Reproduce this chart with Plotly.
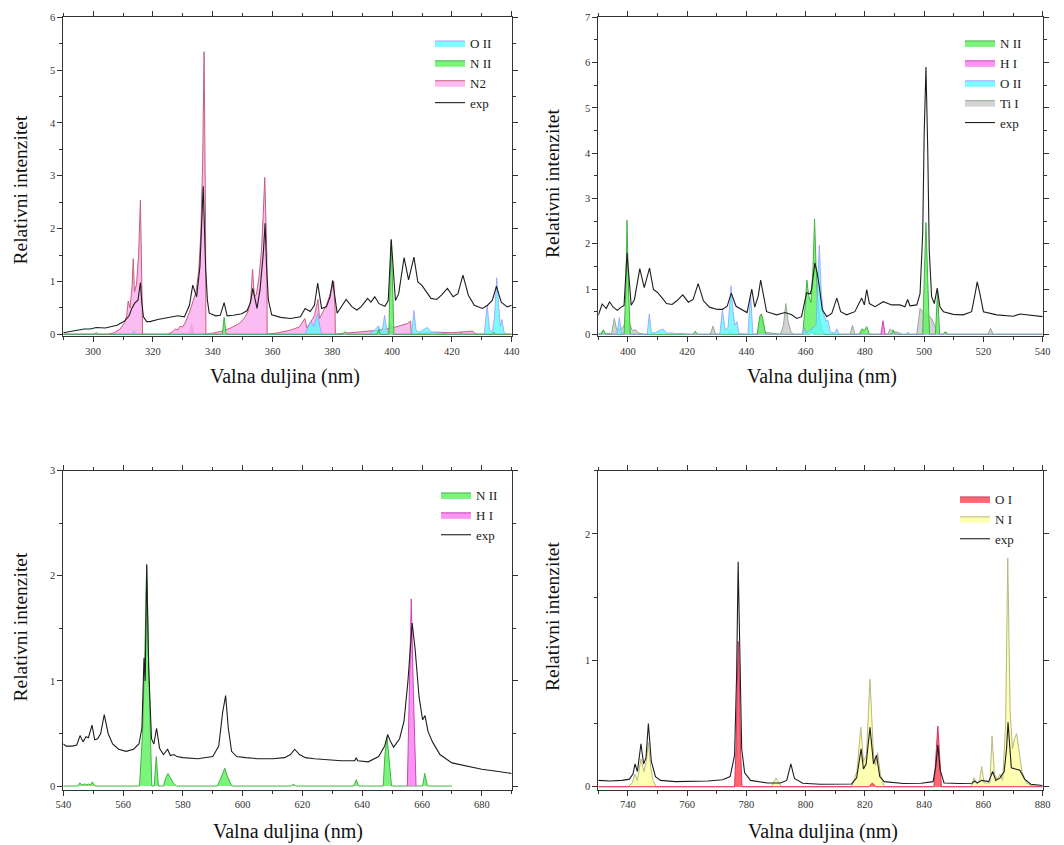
import plotly.graph_objects as go

# ---------------- Panel 1 (290-440 nm) ----------------
p1_exp_x = [290, 293, 297, 299, 301, 304, 308, 310.5, 312, 313, 313.9, 315, 315.8, 316.2, 316.8, 317.9, 319, 321.6, 324.4, 328.3, 330.5, 332.2, 333.3, 334.6, 335.7, 336.5, 336.8, 337.6, 338.2, 338.8, 341, 342.5, 343.8, 344.8, 346.9, 349.7, 351.5, 352.6, 353.4, 354.8, 355.8, 356.9, 357.5, 358.0, 358.6, 359.7, 362.7, 366, 369.3, 370.9, 372.6, 374, 375.1, 376.4, 378, 379.2, 380.1, 381.6, 384.6, 386.6, 388.2, 389.6, 391.8, 392.9, 394.2, 395.6, 397.6, 398.7, 399.7, 401.1, 402.2, 404, 405.5, 407.3, 408.6, 409.9, 411.6, 413, 414.9, 416.5, 418.5, 420.4, 422, 423.7, 425.5, 427.5, 430.2, 431.9, 433.5, 434.9, 436.5, 438.5, 440]
p1_exp_y = [0.03, 0.06, 0.1, 0.1, 0.13, 0.12, 0.17, 0.25, 0.35, 0.5, 0.59, 0.65, 0.98, 0.65, 0.33, 0.24, 0.24, 0.28, 0.31, 0.35, 0.33, 0.55, 0.93, 0.71, 1.28, 2.23, 2.8, 1.28, 0.65, 0.4, 0.35, 0.36, 0.6, 0.35, 0.36, 0.39, 0.45, 0.6, 0.87, 0.49, 0.84, 1.53, 2.1, 1.28, 0.65, 0.37, 0.32, 0.3, 0.33, 0.49, 0.43, 0.55, 0.97, 0.49, 0.52, 0.7, 1.02, 0.4, 0.66, 0.52, 0.46, 0.52, 0.68, 0.61, 0.71, 0.58, 0.53, 0.64, 1.8, 0.64, 0.77, 1.45, 1.03, 1.46, 0.99, 0.93, 0.8, 0.68, 0.66, 0.74, 0.87, 0.71, 0.77, 1.12, 0.74, 0.55, 0.49, 0.55, 0.64, 0.91, 0.61, 0.52, 0.55]

p1_n2_x = [290, 305, 307, 309, 310.5, 311.2, 311.7, 312.3, 313, 313.4, 313.8, 314.5, 315.2, 315.8, 316.4, 316.5, 320, 325, 326.5, 327.5, 328.3, 329, 330, 331, 332.2, 333.2, 334.4, 335.3, 336, 336.6, 337.1, 337.6, 337.7, 340, 343, 346, 348.7, 350.5, 351.7, 352.7, 353.3, 353.9, 354.6, 355.5, 356.3, 356.9, 357.4, 358.1, 358.2, 362, 366, 369, 370.8, 371.5, 372.5, 374, 375.2, 375.7, 376.8, 378, 379.2, 380.1, 380.5, 380.9, 381, 384, 388, 392, 396, 400, 403, 405, 406.2, 406.4, 410, 415, 420, 425, 427, 428, 440]
p1_n2_y = [0, 0, 0.03, 0.1, 0.22, 0.35, 0.63, 0.5, 0.9, 1.43, 0.8, 0.95, 1.5, 2.54, 0.5, 0, 0, 0, 0.05, 0.1, 0.08, 0.15, 0.14, 0.25, 0.42, 0.6, 0.8, 1.2, 1.9, 3.2, 5.35, 2.0, 0, 0.02, 0.06, 0.12, 0.2, 0.3, 0.42, 0.65, 1.23, 0.72, 0.75, 1.1, 1.6, 2.3, 2.97, 1.5, 0, 0.03, 0.08, 0.14, 0.3, 0.12, 0.22, 0.35, 0.66, 0.3, 0.42, 0.55, 0.75, 0.9, 1.0, 0.5, 0, 0.02, 0.04, 0.06, 0.08, 0.12, 0.16, 0.2, 0.25, 0, 0.02, 0.04, 0.03, 0.05, 0.06, 0, 0]

p1_o2_x = [290, 300.5, 301.2, 302, 312.8, 313.6, 314.4, 338.5, 339.3, 340, 370.8, 371.8, 372.8, 373.8, 374.5, 375.1, 375.8, 376.5, 392, 393.5, 394.5, 395.4, 396.2, 396.8, 397.5, 398.2, 399, 406.5, 407.3, 408, 409, 410.5, 411.8, 413, 415, 417, 419, 430.8, 431.8, 432.6, 433.5, 434.2, 435, 435.7, 436.2, 436.7, 437.4, 438, 440]
p1_o2_y = [0, 0, 0.02, 0, 0, 0.06, 0, 0, 0.03, 0, 0, 0.12, 0.25, 0.15, 0.3, 0.4, 0.15, 0, 0, 0.05, 0.1, 0.16, 0.06, 0.1, 0.36, 0.08, 0, 0, 0.45, 0.08, 0.04, 0.08, 0.13, 0.05, 0.03, 0.02, 0, 0, 0.55, 0.08, 0.05, 0.3, 1.07, 0.5, 0.15, 0.28, 0.05, 0, 0]

p1_n2ion_x = [290, 300.3, 301, 301.7, 343.2, 343.8, 344.5, 383.5, 384.2, 385, 395, 395.5, 396, 398.9, 399.3, 399.7, 400.1, 400.6, 422.5, 423, 423.5, 433.5, 434, 434.5, 440]
p1_n2ion_y = [0, 0, 0.03, 0, 0, 0.32, 0, 0, 0.05, 0, 0, 0.1, 0, 0, 1.0, 1.78, 1.0, 0, 0, 0.04, 0, 0, 0.04, 0, 0]

p1_grey_x = [290, 332.2, 332.9, 333.6, 398.5, 399.5, 400.3, 440]
p1_grey_y = [0, 0, 0.19, 0, 0, 0.2, 0, 0]

# ---------------- Panel 2 (390-540 nm) ----------------
p2_exp_x = [390, 391.3, 392.7, 393.8, 394.9, 396.4, 397.5, 398.7, 399.7, 401.1, 402.2, 404, 405.5, 407.3, 408.6, 409.9, 411.6, 413, 414.9, 416.5, 418.5, 420.4, 422, 423.7, 425.5, 427.5, 430.2, 431.9, 433.5, 434.9, 436.5, 438.5, 440.2, 441.8, 442.8, 444, 444.8, 446.8, 450.2, 453, 455.3, 457, 458.6, 459.8, 460.3, 461.5, 462, 463.1, 463.9, 464.6, 465.6, 467.1, 468.8, 470.5, 471.8, 473.8, 476.6, 478.9, 479.8, 480.6, 481.5, 483.4, 486.2, 489, 491.8, 493.5, 494.4, 495.2, 497.5, 498.6, 499.5, 500, 500.6, 501.2, 501.7, 502.5, 503.4, 504.4, 505.3, 506.5, 509.8, 513.2, 516, 517.2, 517.9, 518.8, 520, 524.5, 530.1, 532.3, 534.6, 540]
p2_exp_y = [0.42, 0.67, 0.57, 0.72, 0.61, 0.53, 0.59, 0.64, 1.8, 0.64, 0.77, 1.45, 1.03, 1.46, 0.99, 0.93, 0.8, 0.68, 0.66, 0.74, 0.87, 0.71, 0.77, 1.12, 0.74, 0.6, 0.55, 0.55, 0.62, 0.91, 0.62, 0.55, 0.48, 1.0, 0.6, 0.85, 1.2, 0.5, 0.43, 0.48, 0.43, 0.35, 0.39, 0.76, 0.92, 0.89, 1.0, 1.58, 1.35, 1.05, 0.54, 0.39, 0.46, 0.8, 0.5, 0.43, 0.5, 0.8, 0.65, 0.99, 0.68, 0.61, 0.72, 0.65, 0.65, 0.61, 0.77, 0.63, 0.65, 0.9, 2.23, 4.44, 5.9, 4.07, 1.86, 0.83, 0.68, 1.02, 0.61, 0.5, 0.44, 0.43, 0.5, 0.9, 1.16, 0.9, 0.5, 0.43, 0.4, 0.45, 0.43, 0.39]

p2_nii_x = [390, 391, 391.7, 392.5, 398.7, 399.3, 399.7, 400.2, 400.8, 422, 422.7, 423.5, 443.6, 444.5, 445, 445.5, 446.5, 459, 459.8, 460.4, 461, 461.8, 462.5, 463.0, 463.5, 464, 464.8, 465.5, 466.5, 478, 479, 479.8, 480.6, 481.5, 489, 489.5, 490.2, 499.5, 500, 500.6, 501.2, 501.8, 503.8, 504.5, 505.2, 506.4, 507, 508, 540]
p2_nii_y = [0, 0, 0.1, 0, 0, 1.0, 2.52, 1.0, 0, 0, 0.07, 0, 0, 0.4, 0.45, 0.35, 0, 0, 0.6, 1.2, 0.85, 0.7, 1.5, 2.55, 1.5, 0.8, 0.3, 0.1, 0, 0, 0.12, 0.08, 0.17, 0, 0, 0.1, 0, 0, 1.2, 2.47, 1.2, 0, 0, 0.95, 0, 0, 0.05, 0, 0]

p2_hi_x = [485.4, 486.1, 486.8]
p2_hi_y = [0, 0.3, 0]

p2_oii_x = [390, 396.3, 397.1, 397.9, 406.5, 407.2, 407.9, 409, 410.5, 411.8, 413, 415, 416, 418, 420, 431, 431.9, 432.8, 433.8, 434.8, 435.5, 436.1, 436.8, 437.5, 440.5, 441.4, 442.2, 459, 459.6, 460.2, 463.5, 464.6, 465.3, 466, 466.8, 467.6, 468.3, 469.8, 470.5, 471.3, 494, 494.5, 495, 540]
p2_oii_y = [0, 0, 0.37, 0, 0, 0.45, 0.05, 0.03, 0.08, 0.12, 0.03, 0.03, 0.01, 0.02, 0, 0, 0.55, 0.1, 0.15, 1.07, 0.5, 0.2, 0.28, 0.02, 0, 0.9, 0, 0, 0.15, 0.02, 0.2, 1.97, 0.9, 0.45, 0.3, 0.3, 0.05, 0.03, 0.12, 0, 0, 0.05, 0, 0]

p2_tii_x = [390, 390.8, 391.5, 392.3, 394.5, 395.4, 396.2, 398.3, 399.5, 400.5, 401.5, 402.6, 403.5, 405.5, 427.8, 428.7, 429.6, 433.8, 434.5, 435.5, 444, 445, 446, 451.5, 452.5, 453.3, 454, 455, 456, 461.5, 462.1, 462.7, 475, 475.8, 476.6, 478.6, 479.1, 479.7, 487.7, 488.5, 489.5, 491, 492.5, 497.5, 498.6, 499.5, 500.5, 501.5, 502.5, 503.5, 504.5, 505.5, 506.5, 507.2, 508, 521.5, 522.4, 523.3, 540]
p2_tii_y = [0, 0.02, 0.08, 0.02, 0.02, 0.35, 0.1, 0.15, 0.32, 0.25, 0.08, 0.1, 0.03, 0, 0, 0.18, 0, 0, 0.08, 0, 0, 0.45, 0.05, 0, 0.2, 0.68, 0.3, 0.05, 0, 0, 0.15, 0, 0, 0.2, 0, 0, 0.1, 0, 0, 0.12, 0.05, 0.05, 0, 0, 0.57, 0.5, 0.45, 0.42, 0.35, 0.2, 0.05, 0, 0, 0.06, 0, 0, 0.13, 0, 0]

# ---------------- Panel 3 (540-690 nm) ----------------
p3_exp_x = [540, 541, 543, 544.5, 545.6, 546.6, 547.6, 548.4, 549.6, 550.5, 551.5, 552.5, 553.7, 555, 556.5, 558.5, 561, 563.5, 565.3, 566.3, 567, 567.4, 567.9, 568.6, 569.5, 570.3, 571.2, 572.2, 573.5, 574.9, 575.8, 577, 578, 580, 585, 590, 592, 593.3, 594.3, 595.2, 596.3, 598, 601, 605, 610, 614, 616, 617.4, 619, 621, 624, 628, 633, 637.5, 638, 638.5, 642, 645.5, 647.5, 648.5, 649.5, 650.5, 652.5, 654, 655.3, 656.7, 657.7, 659, 660.2, 661, 662, 663.5, 666, 670, 675, 680, 685, 690]
p3_exp_y = [0.4, 0.38, 0.38, 0.39, 0.48, 0.42, 0.47, 0.46, 0.58, 0.44, 0.45, 0.5, 0.68, 0.5, 0.4, 0.35, 0.33, 0.35, 0.4, 0.55, 1.22, 1.0, 2.11, 1.1, 0.45, 0.4, 0.55, 0.36, 0.3, 0.35, 0.29, 0.3, 0.28, 0.27, 0.26, 0.28, 0.38, 0.7, 0.86, 0.55, 0.33, 0.28, 0.27, 0.26, 0.26, 0.27, 0.3, 0.35, 0.3, 0.27, 0.26, 0.25, 0.24, 0.24, 0.27, 0.24, 0.23, 0.28, 0.38, 0.49, 0.42, 0.37, 0.45, 0.62, 1.0, 1.55, 1.3, 0.85, 0.63, 0.67, 0.52, 0.42, 0.3, 0.22, 0.19, 0.16, 0.14, 0.12]

p3_nii_x = [540, 544.8, 545.5, 546.3, 547.2, 547.8, 548.4, 549.1, 549.7, 550.5, 565.5, 566.5, 567.3, 567.9, 568.5, 569.2, 569.6, 570.4, 571.1, 571.8, 573.5, 574.3, 575, 575.8, 576.8, 577.8, 591.5, 592.8, 594, 594.8, 596.3, 616.3, 617, 617.7, 637.2, 638, 638.8, 647, 647.6, 648.3, 649, 649.8, 660.2, 660.9, 661.8, 670]
p3_nii_y = [0, 0, 0.03, 0.01, 0.02, 0.01, 0.02, 0.01, 0.04, 0, 0, 0.5, 1.3, 2.1, 1.2, 0.4, 0, 0, 0.28, 0, 0, 0.08, 0.12, 0.08, 0.03, 0, 0, 0.08, 0.17, 0.1, 0, 0, 0.02, 0, 0, 0.06, 0, 0, 0.3, 0.47, 0.25, 0, 0, 0.12, 0, 0]

p3_hi_x = [655.1, 655.8, 656.4, 657.1, 658.0]
p3_hi_y = [0, 0.9, 1.78, 0.9, 0]

# ---------------- Panel 4 (730-880 nm) ----------------
p4_exp_x = [730, 734, 738, 740.5, 741.7, 742.4, 743.2, 744.4, 745.3, 746.1, 746.9, 747.9, 749.3, 751, 756, 762, 767, 772, 774.5, 776, 776.7, 777.2, 777.8, 778.4, 779.4, 781.4, 787, 791.5, 793.6, 795, 796.2, 799, 805, 811, 815.5, 817.2, 818.1, 818.7, 819.5, 820.4, 821.7, 822.9, 823.9, 825, 826.5, 833, 839, 843, 843.9, 844.6, 845.4, 846.7, 852, 856.2, 857, 858, 859.4, 861.8, 863.1, 864.2, 865.6, 867, 867.8, 868.3, 869.4, 870.8, 872.3, 873.9, 876, 880]
p4_exp_y = [0.05, 0.045, 0.05, 0.06, 0.1, 0.18, 0.12, 0.34, 0.18, 0.23, 0.5, 0.2, 0.08, 0.05, 0.04, 0.04, 0.045, 0.055, 0.08, 0.25, 0.9, 1.78, 0.9, 0.3, 0.11, 0.05, 0.03, 0.03, 0.05, 0.18, 0.065, 0.028, 0.02, 0.018, 0.022, 0.07, 0.23, 0.3, 0.14, 0.18, 0.47, 0.18, 0.25, 0.08, 0.04, 0.025, 0.028, 0.04, 0.16, 0.33, 0.13, 0.03, 0.025, 0.028, 0.045, 0.03, 0.05, 0.04, 0.12, 0.05, 0.07, 0.12, 0.3, 0.51, 0.15, 0.14, 0.13, 0.06, 0.02, 0.01]

p4_oi_x = [730, 776.0, 776.5, 777.0, 777.2, 777.5, 778.0, 778.5, 821.3, 822.5, 823.7, 843.3, 844.0, 844.6, 845.2, 845.8, 880]
p4_oi_y = [0, 0, 0.3, 1.0, 1.15, 1.0, 0.3, 0, 0, 0.03, 0, 0, 0.25, 0.48, 0.25, 0, 0]

p4_ni_x = [730, 740, 741.5, 742.3, 743.2, 744.4, 745.4, 746.2, 746.9, 747.7, 748.5, 749.5, 788.5, 789.3, 790, 790.7, 791.8, 815.5, 817.3, 818.6, 819.5, 820.5, 821.7, 822.9, 823.6, 824.3, 825.2, 826.5, 855.8, 856.8, 857.8, 858.7, 859.4, 860.2, 862.2, 862.9, 863.7, 864.6, 865.6, 866.5, 867.5, 868.2, 869, 869.8, 870.5, 871.2, 872, 873, 874.5, 876, 880]
p4_ni_y = [0, 0, 0.03, 0.1, 0.05, 0.22, 0.12, 0.2, 0.35, 0.15, 0.05, 0, 0, 0.04, 0.07, 0.04, 0, 0, 0.12, 0.47, 0.2, 0.25, 0.85, 0.25, 0.17, 0.27, 0.1, 0, 0, 0.07, 0.02, 0.05, 0.16, 0.03, 0.03, 0.4, 0.1, 0.06, 0.1, 0.05, 0.5, 1.81, 0.6, 0.3, 0.38, 0.42, 0.3, 0.12, 0.03, 0.01, 0]

x_ranges = [[290, 440], [390, 540], [540, 690], [730, 880]]
x_tick0 = [300, 400, 540, 740]
y_ranges = [[-0.032, 6], [-0.037, 7], [-0.033, 3], [-0.022, 2.5]]

# ---------------- styles ----------------
FONT = "Liberation Serif, Times New Roman, Times, DejaVu Serif, serif"
STY = {
    "O II": dict(fill="rgba(90,250,255,0.8)", line="#9a9aff", w=0.8),
    "N II": dict(fill="rgba(100,242,100,0.85)", line="#45b045", w=1),
    "N2": dict(fill="rgba(250,170,240,0.8)", line="#c4607c", w=1),
    "H I": dict(fill="rgba(250,130,240,0.85)", line="#cc44bb", w=1),
    "Ti I": dict(fill="rgba(175,175,175,0.55)", line="#93ab93", w=1),
    "O I": dict(fill="rgba(255,85,95,0.9)", line="#dd3366", w=1),
    "N I": dict(fill="rgba(255,255,165,0.85)", line="#b8b880", w=1),
    "grey": dict(fill="rgba(165,165,165,0.8)", line="#8a8a8a", w=1),
}

fig = go.Figure()

def add_fill(x, y, name, xa, ya, leg, rank, show=True):
    s = STY[name]
    fig.add_trace(go.Scatter(
        x=x, y=y, mode="lines", fill="tozeroy", name=name,
        fillcolor=s["fill"], line=dict(color=s["line"], width=s["w"]),
        xaxis=xa, yaxis=ya, legend=leg, legendrank=rank, showlegend=show,
        hoverinfo="skip"))

def add_exp(x, y, xa, ya, leg):
    fig.add_trace(go.Scatter(
        x=x, y=y, mode="lines", name="exp",
        line=dict(color="#1e1e1e", width=1.1),
        xaxis=xa, yaxis=ya, legend=leg, legendrank=100))

# Panel 1
add_fill(p1_grey_x, p1_grey_y, "grey", "x", "y", "legend", 90, show=False)
add_fill(p1_n2_x, p1_n2_y, "N2", "x", "y", "legend", 3)
add_fill(p1_o2_x, p1_o2_y, "O II", "x", "y", "legend", 1)
add_fill(p1_n2ion_x, p1_n2ion_y, "N II", "x", "y", "legend", 2)
add_exp(p1_exp_x, p1_exp_y, "x", "y", "legend")

# Panel 2
add_fill(p2_tii_x, p2_tii_y, "Ti I", "x2", "y2", "legend2", 4)
add_fill(p2_nii_x, p2_nii_y, "N II", "x2", "y2", "legend2", 1)
add_fill(p2_oii_x, p2_oii_y, "O II", "x2", "y2", "legend2", 3)
add_fill(p2_hi_x, p2_hi_y, "H I", "x2", "y2", "legend2", 2)
add_exp(p2_exp_x, p2_exp_y, "x2", "y2", "legend2")

# Panel 3
add_fill(p3_nii_x, p3_nii_y, "N II", "x3", "y3", "legend3", 1)
add_fill(p3_hi_x, p3_hi_y, "H I", "x3", "y3", "legend3", 2)
add_exp(p3_exp_x, p3_exp_y, "x3", "y3", "legend3")

# Panel 4
add_fill(p4_ni_x, p4_ni_y, "N I", "x4", "y4", "legend4", 2)
add_fill(p4_oi_x, p4_oi_y, "O I", "x4", "y4", "legend4", 1)
add_exp(p4_exp_x, p4_exp_y, "x4", "y4", "legend4")

# page has an 8 px body margin: figure is placed at (8, 8)
OFF = 8
W, H = 1056, 837

def px_x(p):
    return (p - OFF) / W

def px_y(p):
    return 1 - (p - OFF) / H

xdom = [[px_x(63.3), px_x(511.7)], [px_x(598.3), px_x(1042.7)]] * 2
ydom_top = [px_y(336), px_y(17.3)]
ydom_bot = [px_y(789.5), px_y(470.7)]
ydom = [ydom_top, ydom_top, ydom_bot, ydom_bot]

axis_common = dict(
    showline=True, linecolor="#333333", linewidth=1, mirror="ticks",
    ticks="outside", ticklen=5, tickwidth=1, tickcolor="#333333",
    showgrid=False, zeroline=False, automargin=False,
    tickfont=dict(family=FONT, size=10.5, color="#333333"),
)

layout = dict(
    width=W, height=H, paper_bgcolor="white", plot_bgcolor="white",
    margin=dict(l=0, r=0, t=0, b=0, pad=0, autoexpand=False), showlegend=True,
    font=dict(family=FONT, color="#222222"),
)
for i in range(4):
    sfx = "" if i == 0 else str(i + 1)
    layout["xaxis" + sfx] = dict(
        axis_common, domain=xdom[i], range=x_ranges[i], anchor="y" + sfx,
        tick0=x_tick0[i], dtick=20,
        minor=dict(dtick=10, ticklen=3, tickcolor="#333333", ticks="outside", showgrid=False))
    layout["yaxis" + sfx] = dict(
        axis_common, domain=ydom[i], range=y_ranges[i], anchor="x" + sfx,
        tick0=0, dtick=1,
        minor=dict(dtick=0.5, ticklen=3, tickcolor="#333333", ticks="outside", showgrid=False))

leg_common = dict(xanchor="left", yanchor="top", bgcolor="rgba(0,0,0,0)",
                  font=dict(family=FONT, size=13, color="#222222"),
                  itemwidth=30, tracegroupgap=0, traceorder="normal")
layout["legend"] = dict(leg_common, x=px_x(430), y=px_y(28))
layout["legend2"] = dict(leg_common, x=px_x(960), y=px_y(28))
layout["legend3"] = dict(leg_common, x=px_x(436), y=px_y(480))
layout["legend4"] = dict(leg_common, x=px_x(955), y=px_y(484))

fig.update_layout(**layout)

# Axis titles as annotations (positions in screen pixels)
xt = [(285, 376), (822, 376), (288, 831), (823, 831)]
yt = [(19.5, 190), (552, 184), (19.5, 627), (552, 617)]
for (px, py) in xt:
    fig.add_annotation(text="Valna duljina (nm)", x=px_x(px), y=px_y(py), xref="paper", yref="paper",
                       showarrow=False, xanchor="center", yanchor="middle",
                       font=dict(family=FONT, size=20, color="#111111"))
for (px, py) in yt:
    fig.add_annotation(text="Relativni intenzitet", x=px_x(px), y=px_y(py), xref="paper", yref="paper",
                       showarrow=False, xanchor="center", yanchor="middle", textangle=-90,
                       font=dict(family=FONT, size=19.5, color="#111111"))

fig.write_html("out.html")
